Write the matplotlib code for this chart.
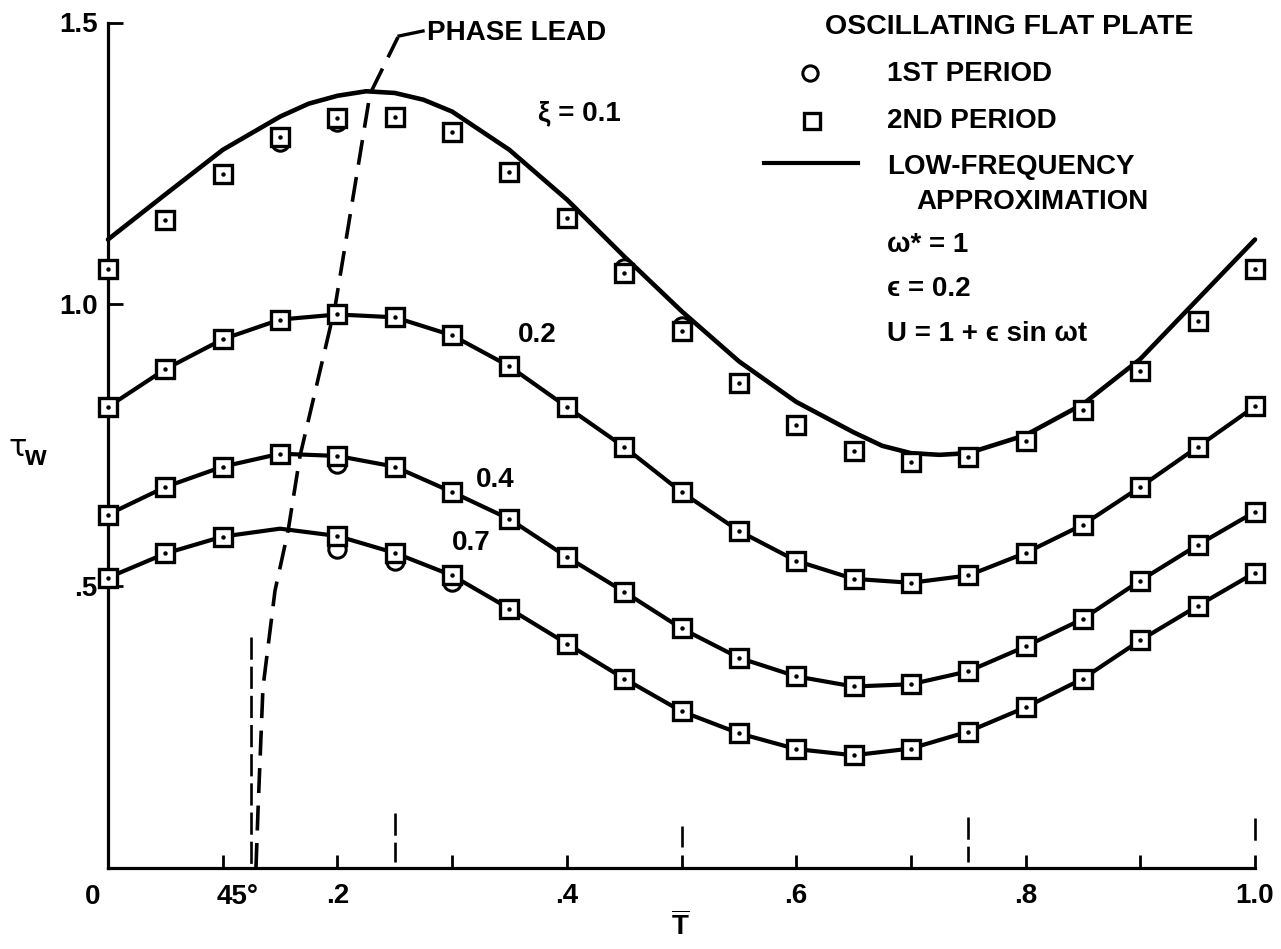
import matplotlib
matplotlib.use('Agg')
import matplotlib.pyplot as plt
from matplotlib.lines import Line2D

plt.rcParams['font.family'] = ['Liberation Sans', 'DejaVu Sans']
plt.rcParams['font.weight'] = 'bold'
plt.rcParams['mathtext.fontset'] = 'custom'
plt.rcParams['mathtext.rm'] = 'Liberation Sans:bold'
plt.rcParams['mathtext.bf'] = 'Liberation Sans:bold'
plt.rcParams['mathtext.it'] = 'Liberation Sans:italic:bold'
plt.rcParams['lines.scale_dashes'] = False

# ---------------- data ----------------
T = [0.00, 0.05, 0.10, 0.15, 0.20, 0.25, 0.30, 0.35, 0.40, 0.45, 0.50,
     0.55, 0.60, 0.65, 0.70, 0.75, 0.80, 0.85, 0.90, 0.95, 1.00]

# xi = 0.1 : 2nd period (squares), 1st period (circles)
sq_01 = [1.062, 1.150, 1.232, 1.297, 1.331, 1.333, 1.306, 1.235, 1.154, 1.055, 0.952,
         0.860, 0.786, 0.740, 0.720, 0.729, 0.758, 0.812, 0.881, 0.970, 1.062]
ci_01 = [1.062, 1.150, 1.232, 1.288, 1.324, 1.333, 1.306, 1.235, 1.154, 1.064, 0.961,
         0.860, 0.786, 0.740, 0.720, 0.729, 0.758, 0.812, 0.881, 0.970, 1.062]
# low-frequency approximation for xi = 0.1 (read at finer spacing)
T_ln01 = [0.00, 0.05, 0.10, 0.15, 0.175, 0.20, 0.225, 0.25, 0.275, 0.30, 0.35, 0.40, 0.45,
          0.50, 0.55, 0.60, 0.65, 0.675, 0.70, 0.725, 0.75, 0.775, 0.80, 0.85, 0.90,
          0.95, 1.00]
ln_01 = [1.115, 1.195, 1.274, 1.333, 1.356, 1.370, 1.378, 1.375, 1.363, 1.342, 1.274,
         1.186, 1.085, 0.988, 0.899, 0.827, 0.773, 0.749, 0.736, 0.733, 0.736, 0.752,
         0.768, 0.823, 0.903, 1.009, 1.115]

# xi = 0.2
sq_02 = [0.818, 0.885, 0.938, 0.973, 0.982, 0.977, 0.945, 0.890, 0.818, 0.747, 0.667,
         0.598, 0.545, 0.513, 0.506, 0.519, 0.559, 0.609, 0.676, 0.747, 0.819]
ci_02 = sq_02
ln_02 = [0.818, 0.885, 0.938, 0.973, 0.982, 0.977, 0.945, 0.890, 0.818, 0.747, 0.667,
         0.598, 0.545, 0.513, 0.506, 0.519, 0.559, 0.609, 0.676, 0.747, 0.819]

# xi = 0.4
sq_04 = [0.627, 0.676, 0.712, 0.735, 0.731, 0.712, 0.667, 0.619, 0.552, 0.490, 0.425,
         0.373, 0.340, 0.322, 0.326, 0.349, 0.393, 0.442, 0.510, 0.573, 0.632]
ci_04 = [0.627, 0.676, 0.712, 0.735, 0.717, 0.712, 0.667, 0.619, 0.552, 0.490, 0.425,
         0.373, 0.340, 0.322, 0.326, 0.349, 0.393, 0.442, 0.510, 0.573, 0.632]
ln_04 = [0.627, 0.676, 0.712, 0.735, 0.731, 0.712, 0.667, 0.619, 0.552, 0.490, 0.425,
         0.373, 0.340, 0.322, 0.326, 0.349, 0.393, 0.442, 0.510, 0.573, 0.632]

# xi = 0.7 (no symbol plotted at T = 0.15)
T_07 = [0.00, 0.05, 0.10, 0.20, 0.25, 0.30, 0.35, 0.40, 0.45, 0.50,
        0.55, 0.60, 0.65, 0.70, 0.75, 0.80, 0.85, 0.90, 0.95, 1.00]
sq_07 = [0.515, 0.558, 0.588, 0.589, 0.559, 0.519, 0.460, 0.398, 0.336, 0.278,
         0.239, 0.211, 0.200, 0.212, 0.242, 0.285, 0.336, 0.404, 0.465, 0.524]
ci_07 = [0.515, 0.558, 0.588, 0.566, 0.545, 0.508, 0.460, 0.398, 0.336, 0.278,
         0.239, 0.211, 0.200, 0.212, 0.242, 0.285, 0.336, 0.404, 0.465, 0.524]
ln_07 = [0.515, 0.558, 0.588, 0.602, 0.589, 0.559, 0.519, 0.460, 0.398, 0.336, 0.278,
         0.239, 0.211, 0.200, 0.212, 0.242, 0.285, 0.336, 0.404, 0.465, 0.524]

# phase-lead locus (dashed)
phase_T = [0.129, 0.1308, 0.1351, 0.1456, 0.157, 0.1674, 0.198, 0.2284, 0.2528]
phase_v = [0.000, 0.103, 0.320, 0.492, 0.598, 0.731, 0.996, 1.373, 1.474]

# short dashed marks along the T axis (45 deg and quarter periods)
mark_T = [0.125, 0.25, 0.50, 0.75, 1.00]
mark_top = [0.409, 0.097, 0.074, 0.090, 0.088]
mark_bot = [0.000, 0.011, 0.037, 0.011, 0.044]

xi_labels = ['\u03be = 0.1', '0.2', '0.4', '0.7']
xtick_vals = [0.1, 0.2, 0.3, 0.4, 0.5, 0.6, 0.7, 0.8, 0.9, 1.0]
xtick_labels = ['', '.2', '', '.4', '', '.6', '', '.8', '', '1.0']
ytick_vals = [0.5, 1.0, 1.5]
ytick_labels = ['.5', '1.0', '1.5']

# ---------------- figure ----------------
W, H = 1281, 949
fig = plt.figure(figsize=(W / 100, H / 100), dpi=100)


def fp(x, y):
    return x / W, 1 - y / H


ax_l, ax_r, ax_b, ax_t = 108, 1255, 868, 22.5
ax = fig.add_axes([ax_l / W, 1 - ax_b / H, (ax_r - ax_l) / W, (ax_b - ax_t) / H])
ax.set_xlim(0, 1)
ax.set_ylim(0, 1.5)
for s in ['top', 'right']:
    ax.spines[s].set_visible(False)
for s in ['left', 'bottom']:
    ax.spines[s].set_linewidth(2.3)
    ax.spines[s].set_capstyle('projecting')

FS = 20
ax.set_xticks(xtick_vals)
ax.set_xticklabels(xtick_labels)
ax.tick_params(axis='x', direction='in', length=9.5, width=2.0, pad=10.5, labelsize=FS)
ax.set_yticks(ytick_vals)
ax.set_yticklabels(ytick_labels)
ax.tick_params(axis='y', direction='in', length=11, width=2.0, pad=7.5, labelsize=FS)
for lab in ax.get_xticklabels() + ax.get_yticklabels():
    lab.set_fontweight('bold')

ms = 12.5
series = [(T, sq_01, ci_01, T_ln01, ln_01, 3.3),
          (T, sq_02, ci_02, T, ln_02, 3.0),
          (T, sq_04, ci_04, T, ln_04, 3.0),
          (T_07, sq_07, ci_07, T, ln_07, 3.0)]
for tx, sq, ci, tl, ln, lw in series:
    ax.plot(tl, ln, color='black', lw=lw, zorder=2, clip_on=False,
            solid_capstyle='round', solid_joinstyle='round')
    ax.plot(tx, ci, ls='none', marker='o', ms=ms, mfc='white', mec='black', mew=2.2,
            zorder=3, clip_on=False)
    ax.plot(tx, sq, ls='none', marker='s', ms=ms, mfc='white', mec='black', mew=2.4,
            zorder=4, clip_on=False)
    ax.plot(tx, sq, ls='none', marker='o', ms=3.2, mfc='black', mec='black', mew=0,
            zorder=5, clip_on=False)

# phase lead dashed curve
ax.plot(phase_T, phase_v, color='black', lw=2.6, dashes=(18, 9), zorder=2, clip_on=False)

# marks on the T axis
for mt, top, bot in zip(mark_T, mark_top, mark_bot):
    ax.plot([mt, mt], [top, bot], color='black', lw=1.9, dashes=(16, 5),
            zorder=2, clip_on=False)

# curve labels
fig.text(*fp(538, 113), xi_labels[0], fontsize=FS, fontweight='bold', ha='left', va='center')
fig.text(*fp(537, 335), xi_labels[1], fontsize=FS, fontweight='bold', ha='center', va='center')
fig.text(*fp(495, 480), xi_labels[2], fontsize=FS, fontweight='bold', ha='center', va='center')
fig.text(*fp(471, 543), xi_labels[3], fontsize=FS, fontweight='bold', ha='center', va='center')

# extra x labels and axis titles
fig.text(*fp(93, 897), '0', fontsize=FS, fontweight='bold', ha='center', va='center')
fig.text(*fp(238, 897), '45\u00b0', fontsize=FS, fontweight='bold', ha='center', va='center')
fig.text(*fp(680, 926), r'$\overline{\mathbf{T}}$', fontsize=FS, ha='center', va='center')

fig.text(*fp(18, 448), '\u03c4', fontsize=FS + 2, ha='center', va='center',
         family=['DejaVu Sans'], fontweight='normal')
fig.text(*fp(35, 458), 'w', fontsize=FS, ha='center', va='center', fontweight='bold')

# phase lead label
fig.add_artist(Line2D([399 / W, 423 / W], [1 - 36 / H, 1 - 31 / H], color='black', lw=2.4))
fig.text(*fp(427, 33), 'PHASE LEAD', fontsize=FS, fontweight='bold', ha='left', va='center')

# legend block
fig.text(*fp(1009, 27), 'OSCILLATING FLAT PLATE', fontsize=FS + 0.5, fontweight='bold',
         ha='center', va='center')
fig.add_artist(Line2D([810 / W], [1 - 73 / H], marker='o', ms=11, mfc='white', mec='black',
                      mew=2.2, ls='none'))
fig.text(*fp(887, 74), '1ST PERIOD', fontsize=FS, fontweight='bold', ha='left', va='center')
fig.add_artist(Line2D([812 / W], [1 - 121 / H], marker='s', ms=11, mfc='white', mec='black',
                      mew=2.4, ls='none'))
fig.text(*fp(887, 121), '2ND PERIOD', fontsize=FS, fontweight='bold', ha='left', va='center')
fig.add_artist(Line2D([764 / W, 858 / W], [1 - 163 / H, 1 - 163 / H], color='black', lw=3.0))
fig.text(*fp(887, 167), 'LOW-FREQUENCY', fontsize=FS, fontweight='bold', ha='left', va='center')
fig.text(*fp(916, 202), 'APPROXIMATION', fontsize=FS, fontweight='bold', ha='left', va='center')
fig.text(*fp(887, 245), '\u03c9* = 1', fontsize=FS, fontweight='bold', ha='left', va='center')
fig.text(*fp(887, 289), '\u03f5 = 0.2', fontsize=FS, fontweight='bold', ha='left', va='center')
fig.text(*fp(887, 334), 'U = 1 + \u03f5 sin \u03c9t', fontsize=FS, fontweight='bold',
         ha='left', va='center')

fig.savefig('out.png', dpi=100, facecolor='white')
